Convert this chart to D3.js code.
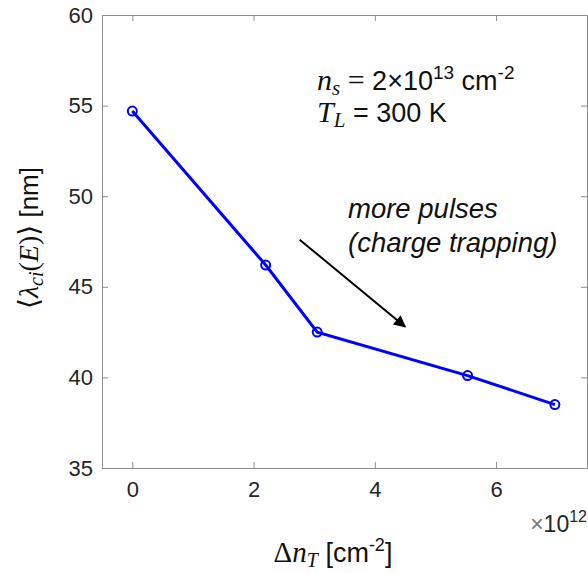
<!DOCTYPE html>
<html>
<head>
<meta charset="utf-8">
<script src="https://cdn.jsdelivr.net/npm/d3@7"></script>
<style>
  body { margin: 0; background: #fff; }
  #vis { width: 588px; height: 573px; }
  .axis text { font-family: "Liberation Sans", Arial, sans-serif; font-size: 22px; fill: #262626; }
  .axis path, .axis line { stroke: #8c8c8c; stroke-width: 1px; }
</style>
</head>
<body>
<div id="vis"></div>
<script>
// data (x in units of 1e12 cm^-2)
var deltaN = [0, 2.2, 3.05, 5.53, 6.97];
var lambda = [54.7, 46.2, 42.5, 40.1, 38.5];
var xTicks = [0, 2, 4, 6];
var yTicks = [35, 40, 45, 50, 55, 60];
var arrowFrom = [2.76, 47.6];
var arrowTo = [4.5, 42.8];

var width = 588, height = 573;
var margin = { top: 15, bottom: 105, left: 102, right: 1 };

var svg = d3.select('#vis')
    .append('svg')
    .attr('width', width)
    .attr('height', height);

var g = svg.append('g')
    .attr('transform', 'translate(' + margin.left + ',' + margin.top + ')');

width = width - margin.left - margin.right;
height = height - margin.top - margin.bottom;

var x_scale = d3.scaleLinear().domain([-0.5, 7.5]).range([0, width]);
var y_scale = d3.scaleLinear().domain([35, 60]).range([height, 0]);

// axes, ticks pointing inward like matlab
g.append('g')
    .attr('class', 'axis')
    .attr('transform', 'translate(0,' + height + ')')
    .call(d3.axisBottom(x_scale).tickValues(xTicks).tickSizeInner(-6).tickSizeOuter(0).tickPadding(13));
g.append('g')
    .attr('class', 'axis')
    .call(d3.axisTop(x_scale).tickValues(xTicks).tickSizeInner(-6).tickSizeOuter(0).tickFormat(''));
g.append('g')
    .attr('class', 'axis')
    .call(d3.axisLeft(y_scale).tickValues(yTicks).tickSizeInner(-6).tickSizeOuter(0).tickPadding(9));
g.append('g')
    .attr('class', 'axis')
    .attr('transform', 'translate(' + width + ',0)')
    .call(d3.axisRight(y_scale).tickValues(yTicks).tickSizeInner(-6).tickSizeOuter(0).tickFormat(''));

var pts = deltaN.map(function(d, i) { return [d, lambda[i]]; });

var line = d3.line()
    .x(function(d) { return x_scale(d[0]); })
    .y(function(d) { return y_scale(d[1]); });

g.append('path')
    .datum(pts)
    .attr('fill', 'none')
    .attr('stroke', '#0000ff')
    .attr('stroke-width', 3)
    .attr('d', line);

g.selectAll('.pt')
    .data(pts)
    .enter()
    .append('circle')
    .attr('class', 'pt')
    .attr('cx', function(d) { return x_scale(d[0]); })
    .attr('cy', function(d) { return y_scale(d[1]); })
    .attr('r', 4.5)
    .attr('fill', 'none')
    .attr('stroke', '#0000ff')
    .attr('stroke-width', 2);

// arrow
svg.append('defs').append('marker')
    .attr('id', 'head')
    .attr('viewBox', '0 0 10 10')
    .attr('refX', 9)
    .attr('refY', 5)
    .attr('markerWidth', 16)
    .attr('markerHeight', 12)
    .attr('markerUnits', 'userSpaceOnUse')
    .attr('orient', 'auto')
    .append('path')
    .attr('d', 'M0,0 L10,5 L0,10 Z')
    .attr('fill', '#000');

g.append('line')
    .attr('x1', x_scale(arrowFrom[0]))
    .attr('y1', y_scale(arrowFrom[1]))
    .attr('x2', x_scale(arrowTo[0]))
    .attr('y2', y_scale(arrowTo[1]))
    .attr('stroke', '#000')
    .attr('stroke-width', 2)
    .attr('marker-end', 'url(#head)');

var sans = '"Liberation Sans", Arial, sans-serif';
var serif = '"Liberation Serif", "DejaVu Serif", serif';

// annotation
var note = svg.append('text')
    .attr('font-family', sans)
    .attr('font-size', 27.5)
    .attr('font-style', 'italic')
    .attr('fill', '#111');
note.append('tspan').attr('x', 348).attr('y', 218).text('more pulses');
note.append('tspan').attr('x', 348).attr('y', 252).text('(charge trapping)');

// conditions text
function addRuns(el, runs) {
    runs.forEach(function(r) {
        var t = el.append('tspan').text(r.t);
        t.attr('font-family', r.serif ? serif : sans);
        if (r.it) t.attr('font-style', 'italic');
        if (r.size) t.attr('font-size', r.size);
        if (r.dy) t.attr('dy', r.dy);
    });
}

var cond1 = svg.append('text')
    .attr('x', 317).attr('y', 90)
    .attr('font-size', 27).attr('fill', '#111');
addRuns(cond1, [
    { t: 'n', serif: true, it: true, size: 30 },
    { t: 's', serif: true, it: true, size: 21, dy: 5 },
    { t: ' = ', serif: true, size: 30, dy: -5 },
    { t: '2×10' },
    { t: '13', size: 19, dy: -11 },
    { t: ' cm', dy: 11 },
    { t: '-2', size: 19, dy: -11 }
]);

var cond2 = svg.append('text')
    .attr('x', 317).attr('y', 122)
    .attr('font-size', 27).attr('fill', '#111');
addRuns(cond2, [
    { t: 'T', serif: true, it: true, size: 30 },
    { t: 'L', serif: true, it: true, size: 21, dy: 5 },
    { t: ' = 300 K', dy: -5 }
]);

// y label
var ylab = svg.append('text')
    .attr('transform', 'translate(38,238) rotate(-90)')
    .attr('text-anchor', 'middle')
    .attr('font-size', 26)
    .attr('fill', '#111');
addRuns(ylab, [
    { t: '⟨', serif: true, size: 28 },
    { t: 'λ', serif: true, it: true, size: 28 },
    { t: 'ci', serif: true, it: true, size: 20, dy: 5 },
    { t: '(', serif: true, size: 28, dy: -5 },
    { t: 'E', serif: true, it: true, size: 28 },
    { t: ')⟩', serif: true, size: 28 },
    { t: ' [nm]' }
]);

// x label
var xlab = svg.append('text')
    .attr('x', 333).attr('y', 562)
    .attr('text-anchor', 'middle')
    .attr('font-size', 27)
    .attr('fill', '#111');
addRuns(xlab, [
    { t: 'Δ', serif: true, size: 29 },
    { t: 'n', serif: true, it: true, size: 29 },
    { t: 'T', serif: true, it: true, size: 20, dy: 5 },
    { t: ' [cm', dy: -5 },
    { t: '-2', size: 18, dy: -11 },
    { t: ']', dy: 11 }
]);

// exponent label
var expo = svg.append('text')
    .attr('x', 587).attr('y', 532)
    .attr('text-anchor', 'end')
    .attr('font-family', sans)
    .attr('font-size', 23)
    .attr('fill', '#262626');
expo.append('tspan').attr('fill', '#777').text('×');
expo.append('tspan').text('10');
expo.append('tspan').attr('font-size', 16).attr('dy', -10).text('12');
</script>
</body>
</html>
